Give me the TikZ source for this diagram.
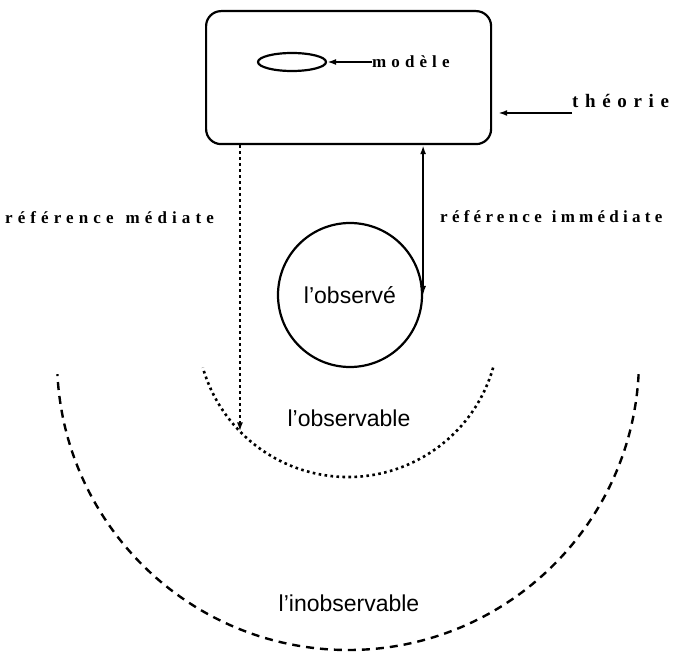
\documentclass[tikz,border=0pt]{standalone}
\usepackage{fontspec}
\setmainfont{Liberation Sans}
\newfontfamily\lsfont{Liberation Serif Bold}[LetterSpace=30]
\usetikzlibrary{arrows.meta,shapes.geometric}
\tikzset{
  lbl/.style={font=\fontsize{23}{27}\selectfont, inner sep=0pt},
  sp/.style={font=\lsfont\fontsize{17}{19}\selectfont, inner sep=0pt},
  ln/.style={line width=1.8pt},
  dotline/.style={line width=2.6pt, dash pattern=on 2.6pt off 3.4pt},
  dashline/.style={line width=2.4pt, dash pattern=on 8pt off 6pt},
  tip/.tip={Latex[length=9pt,width=6pt]}
}
\begin{document}
\begin{tikzpicture}[x=1pt,y=-1pt]
\useasboundingbox (0,0) rectangle (675,655);
% theory box
\node[draw, rounded corners=15pt, line width=2.2pt, minimum width=285pt, minimum height=133pt, anchor=north west] (box) at (205,10) {};
\node[draw, ellipse, minimum width=68pt, minimum height=18pt, line width=2.2pt, inner sep=0pt] (ell) at (292,62) {};
\node[sp, anchor=west] (mod) at (372,62) {modèle};
\draw[ln, -tip] (mod.west) -- (ell.east);
\node[sp, font=\lsfont\fontsize{19}{21}\selectfont\addfontfeatures{LetterSpace=35}, anchor=base west] (theo) at (572,108) {théorie};
\draw[ln, -tip, shorten >=6pt] ([yshift=-5pt]theo.base west) -- ([yshift=-5pt]theo.base west -| box.east);
% labels
\node[sp, anchor=west] (med) at (5,218) {référence\hspace{12pt}médiate};
\node[sp, font=\lsfont\fontsize{17}{19}\selectfont\addfontfeatures{LetterSpace=25}, anchor=west] (imm) at (440,217) {référence\hspace{10pt}immédiate};
% observed
\node[draw, circle, minimum size=144pt, line width=2.2pt, inner sep=0pt, font=\fontsize{23}{27}\selectfont] (obs) at (350,295) {l'observé};
\draw[ln, tip-tip] (box.south -| obs.east) -- (obs.east);
% observable arc
\coordinate (oc) at (348,326);
\coordinate (ic) at (348,359);
\draw[dotline] ([shift={(348,326)}]16:151) arc[start angle=16, end angle=164, radius=151];
\coordinate (mtip) at ([shift={(348,326)}]135.7:151);
\draw[dotline, -tip] (box.south -| mtip) -- (mtip);
\node[lbl] (obl) at (349,418) {l'observable};
% inobservable arc
\draw[dashline] ([shift={(348,359)}]3:291) arc[start angle=3, end angle=177, radius=291];
\node[lbl] (inobl) at (349,603) {l'inobservable};
\end{tikzpicture}
\end{document}
